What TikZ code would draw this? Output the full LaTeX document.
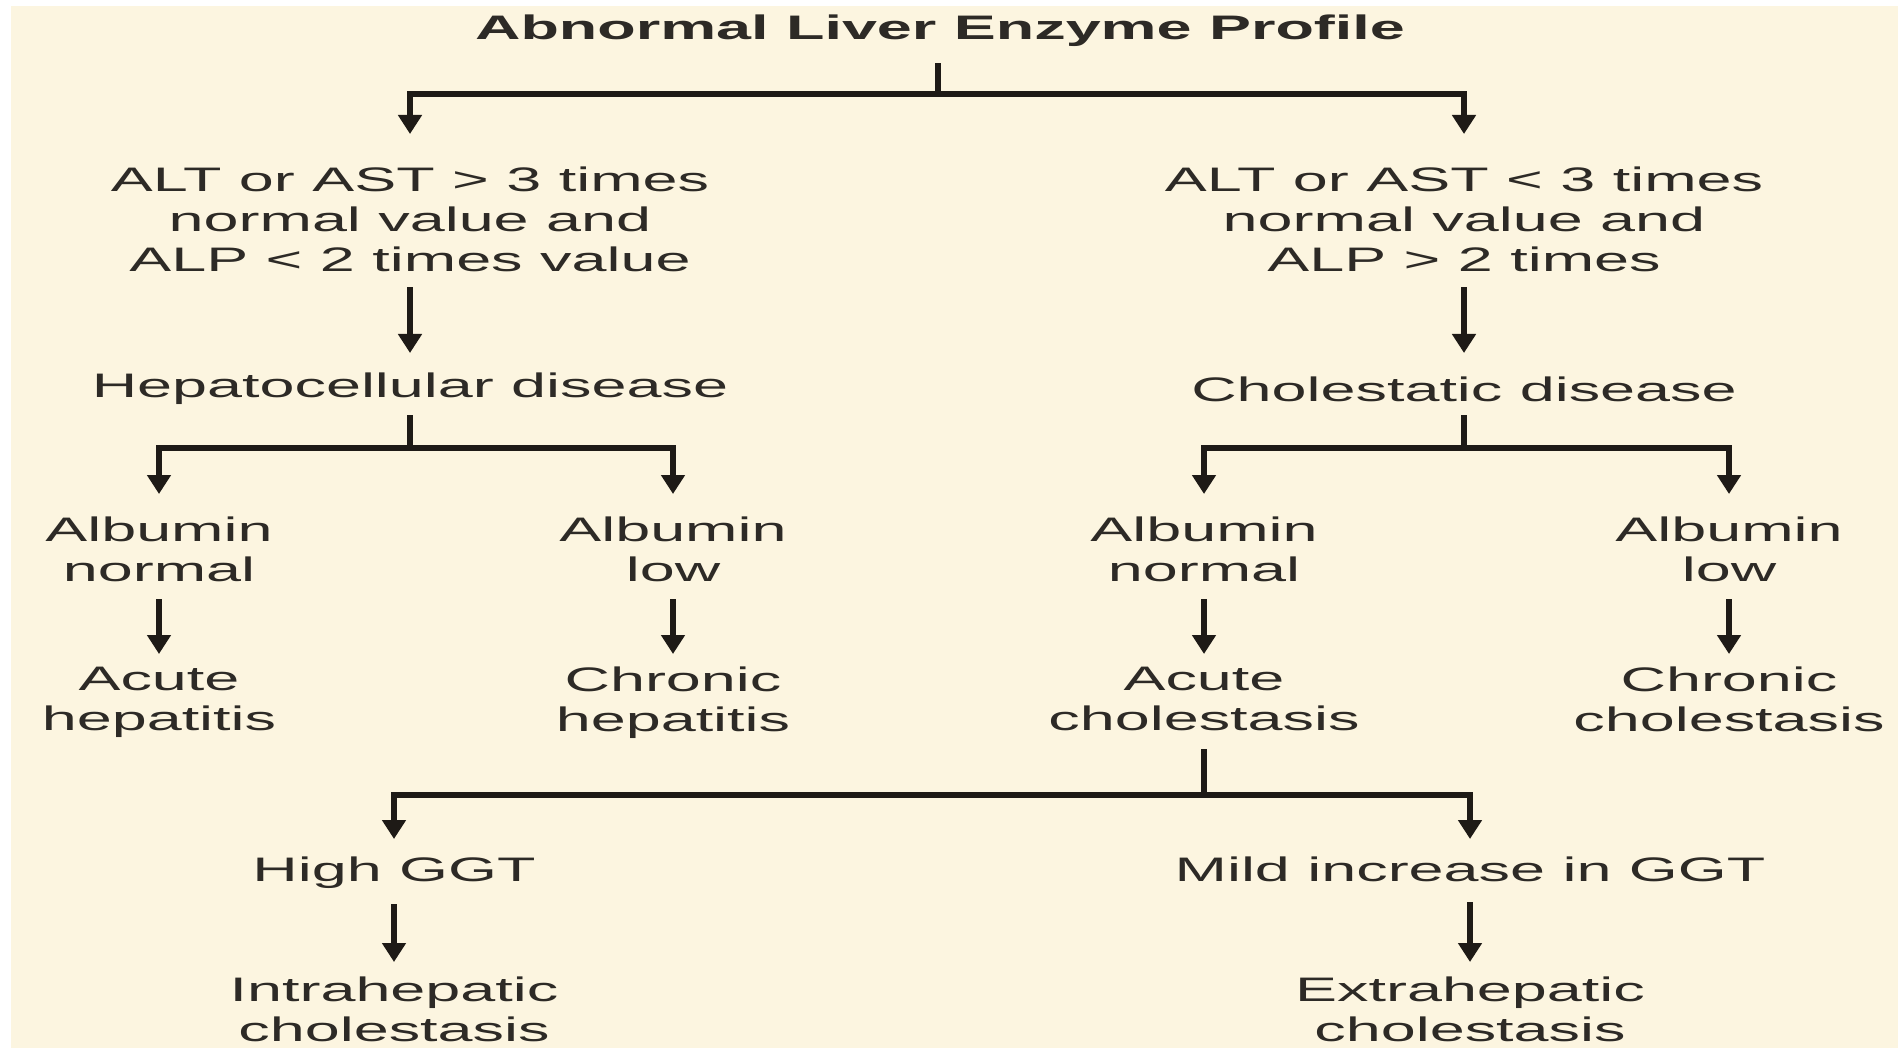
\documentclass[tikz,border=0pt]{standalone}
\usepackage{fontspec}
\setmainfont{Liberation Sans}[FakeStretch=1.85]
\usetikzlibrary{arrows.meta}
\definecolor{bgcream}{RGB}{252,245,224}
\definecolor{ink}{RGB}{45,42,38}
\definecolor{lnc}{RGB}{30,26,22}
\begin{document}
\begin{tikzpicture}[x=1pt,y=-1pt,
  txt/.style={font=\fontsize{34}{40}\selectfont, text=ink, align=center, inner sep=0pt, anchor=north},
  ttl/.style={txt, font=\fontsize{34}{40}\selectfont\bfseries},
  ln/.style={draw=lnc, line width=5.5pt},
  arr/.style={ln, -{Triangle[width=23pt,length=19pt]}},
]
\fill[white] (0,0) rectangle (1898,1048);
\fill[bgcream] (11,6) rectangle (1898,1048);
\useasboundingbox (0,0) rectangle (1898,1048);

\node[ttl] (title) at (940,15) {Abnormal Liver Enzyme Profile};
\node[txt] (L1) at (410,167) {ALT or AST > 3 times\\normal value and\\ALP < 2 times value};
\node[txt] (R1) at (1464,167) {ALT or AST < 3 times\\normal value and\\ALP > 2 times};
\node[txt] (hep) at (410,373) {Hepatocellular disease};
\node[txt] (chol) at (1464,377) {Cholestatic disease};
\node[txt] (aln1) at (159,517) {Albumin\\normal};
\node[txt] (all1) at (673,517) {Albumin\\low};
\node[txt] (aln2) at (1204,517) {Albumin\\normal};
\node[txt] (all2) at (1729,517) {Albumin\\low};
\node[txt] (ahep) at (159,667) {Acute\\hepatitis};
\node[txt] (chep) at (673,667) {Chronic\\hepatitis};
\node[txt] (acho) at (1204,667) {Acute\\cholestasis};
\node[txt] (ccho) at (1729,667) {Chronic\\cholestasis};
\node[txt] (hggt) at (394,857) {High GGT};
\node[txt] (mggt) at (1470,857) {Mild increase in GGT};
\node[txt] (intra) at (394,977) {Intrahepatic\\cholestasis};
\node[txt] (extra) at (1470,977) {Extrahepatic\\cholestasis};

\coordinate (b0) at (938,94);
\draw[ln, shorten <=16pt] (title.south -| b0) -- (b0);
\draw[arr, shorten >=33pt] (b0) -| (L1);
\draw[arr, shorten >=33pt] (b0) -| (R1);

\draw[arr, shorten <=15pt, shorten >=20pt] (L1) -- (hep);
\draw[arr, shorten <=15pt, shorten >=24pt] (R1) -- (chol);

\coordinate (b1) at (410,448);
\draw[ln, shorten <=10pt] (hep) -- (b1);
\draw[arr, shorten >=23pt] (b1) -| (aln1);
\draw[arr, shorten >=23pt] (b1) -| (all1);
\coordinate (b2) at (1464,448);
\draw[ln, shorten <=13pt] (chol) -- (b2);
\draw[arr, shorten >=23pt] (b2) -| (aln2);
\draw[arr, shorten >=23pt] (b2) -| (all2);

\draw[arr, shorten <=17pt, shorten >=13pt] (aln1) -- (ahep);
\draw[arr, shorten <=17pt, shorten >=13pt] (all1) -- (chep);
\draw[arr, shorten <=17pt, shorten >=13pt] (aln2) -- (acho);
\draw[arr, shorten <=17pt, shorten >=13pt] (all2) -- (ccho);

\coordinate (b3) at (1204,795);
\draw[ln, shorten <=18pt] (acho) -- (b3);
\draw[arr, shorten >=18pt] (b3) -| (hggt);
\draw[arr, shorten >=18pt] (b3) -| (mggt);

\draw[arr, shorten <=15pt, shorten >=15pt] (hggt) -- (intra);
\draw[arr, shorten <=20pt, shorten >=15pt] (mggt) -- (extra);
\end{tikzpicture}
\end{document}
